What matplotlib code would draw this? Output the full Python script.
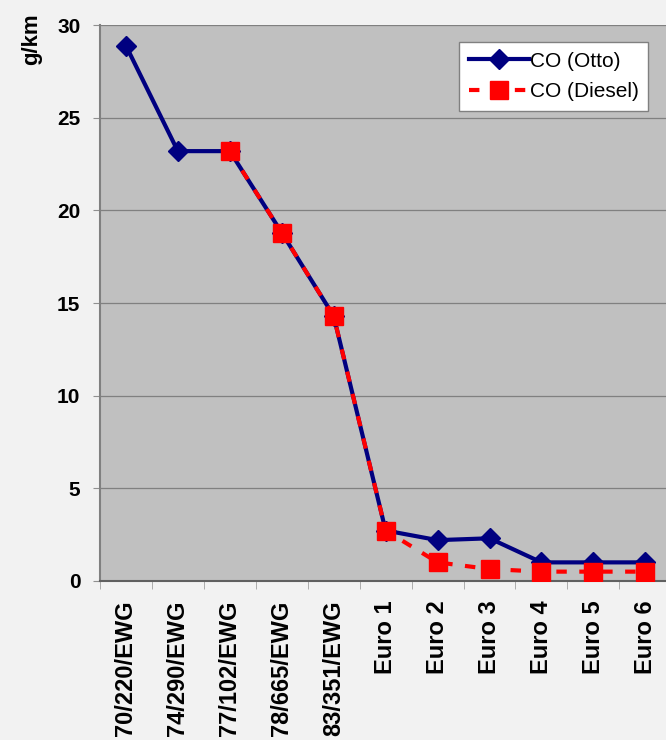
import numpy as np
import matplotlib.pyplot as plt
from matplotlib.ticker import FixedLocator

# CO limits per emission standard
categories = ['70/220/EWG', '74/290/EWG', '77/102/EWG', '78/665/EWG', '83/351/EWG',
              'Euro 1', 'Euro 2', 'Euro 3', 'Euro 4', 'Euro 5', 'Euro 6']
co_otto = [28.9, 23.2, 23.2, 18.8, 14.3, 2.72, 2.2, 2.3, 1.0, 1.0, 1.0]
co_diesel = [np.nan, np.nan, 23.2, 18.8, 14.3, 2.72, 1.0, 0.64, 0.5, 0.5, 0.5]

plt.rcParams['font.family'] = ['Liberation Sans', 'DejaVu Sans']

fig = plt.figure(figsize=(6.66, 7.40), dpi=100, facecolor='#f2f2f2')
ax = fig.add_axes([0.150, 0.215, 0.858, 0.751])
ax.set_facecolor('#c0c0c0')

x = np.arange(len(categories))
ax.plot(x, co_otto, color='#000080', lw=3, marker='D', ms=10,
        label='CO (Otto)', zorder=3)
ax.plot(x, co_diesel, color='#ff0000', lw=3, ls=(0, (2.5, 3)), marker='s', ms=12.5,
        label='CO (Diesel)', zorder=4)

ax.set_xlim(-0.5, len(categories) - 0.5)
ax.set_ylim(0, 30)
ax.set_yticks([0, 5, 10, 15, 20, 25, 30])
ax.yaxis.grid(True, color='#808080', lw=0.9)
ax.set_axisbelow(True)

ax.set_xticks(x)
ax.set_xticklabels(categories, rotation=90, fontsize=17, fontweight='bold', va='top')
ax.xaxis.set_minor_locator(FixedLocator(np.arange(len(categories) + 1) - 0.5))
ax.tick_params(axis='x', which='major', length=0, pad=14)
ax.tick_params(axis='x', which='minor', length=6, color='#a0a0a0', direction='out')
ax.tick_params(axis='y', length=5, color='#909090', labelsize=15, pad=9)
for lab in ax.get_yticklabels():
    lab.set_fontweight('bold')

for s in ['top', 'right']:
    ax.spines[s].set_visible(False)
ax.spines['left'].set_color('#808080')
ax.spines['left'].set_linewidth(1.5)
ax.spines['bottom'].set_color('#606060')
ax.spines['bottom'].set_linewidth(1.5)

fig.text(0.048, 0.982, 'g/km', rotation=90, fontsize=16, fontweight='bold',
         ha='center', va='top')

leg = ax.legend(loc='upper right', bbox_to_anchor=(0.96, 0.969), fontsize=15,
                fancybox=False, framealpha=1, edgecolor='#808080',
                handlelength=2.9, borderpad=0.45, labelspacing=0.55,
                handletextpad=0.05, borderaxespad=0)
leg.get_frame().set_linewidth(1.0)

fig.savefig('out.png', dpi=100, facecolor=fig.get_facecolor())
